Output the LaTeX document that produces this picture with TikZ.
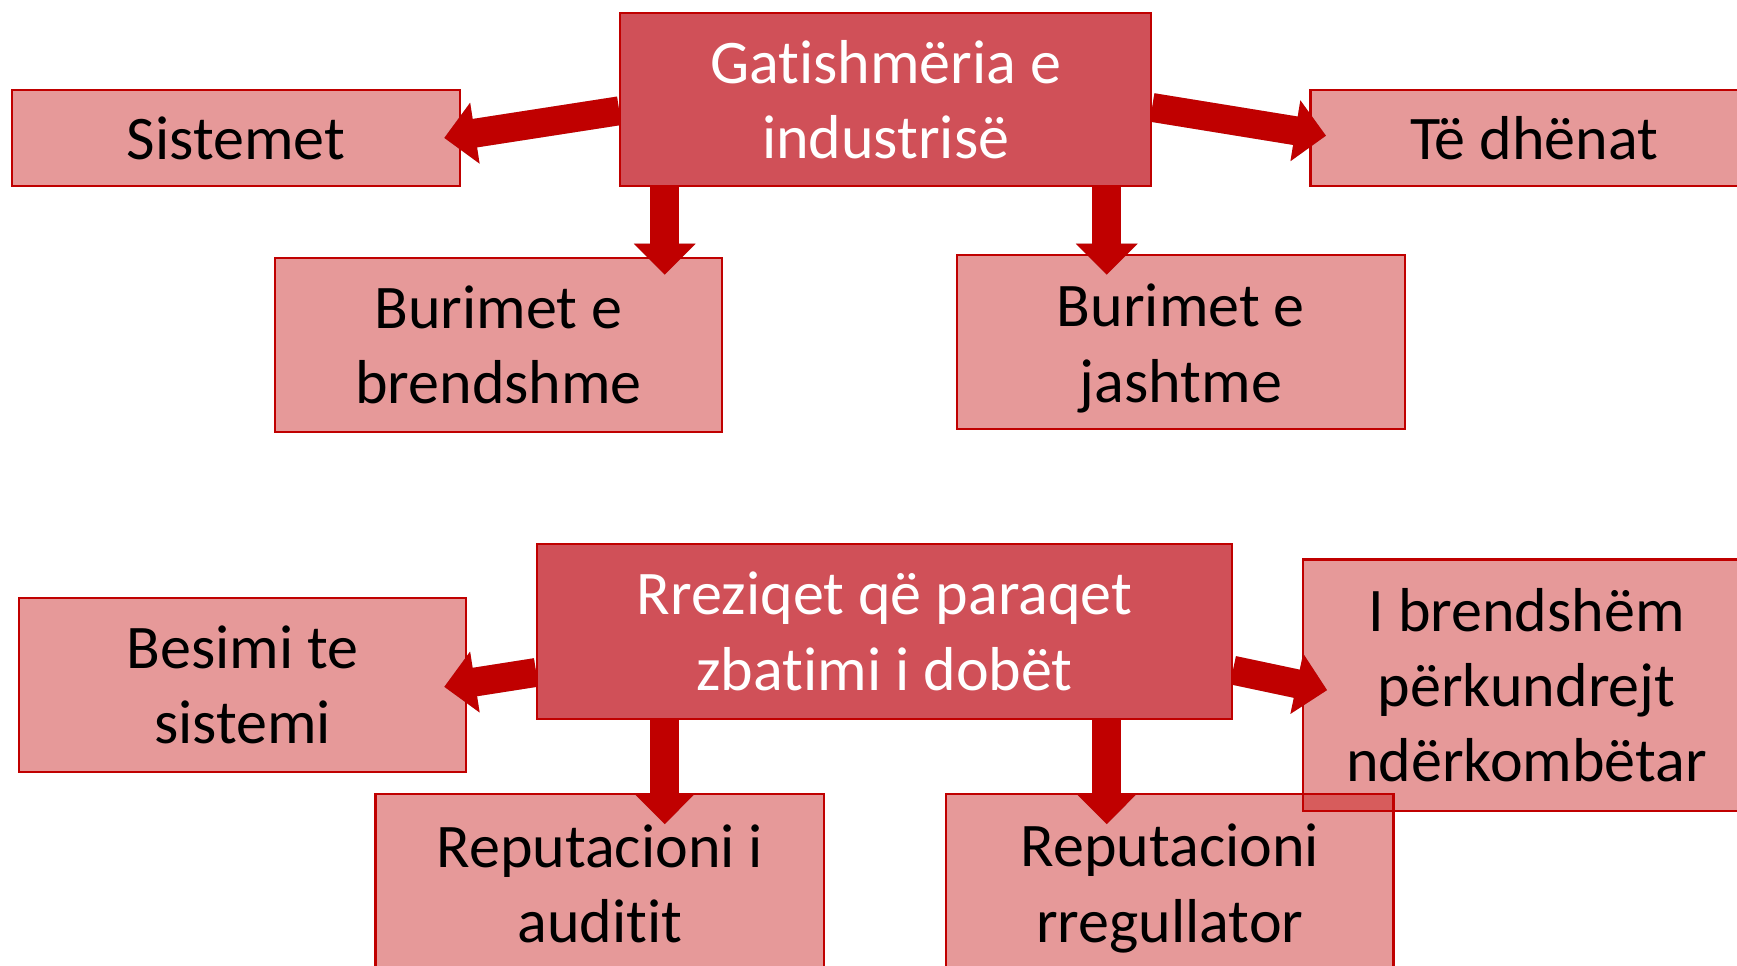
\documentclass[tikz,border=0pt]{standalone}
\usepackage{fontspec}
\setmainfont{Carlito}[RawFeature={-liga;-clig;-calt;-dlig}]
\usetikzlibrary{arrows.meta,calc}
\definecolor{brd}{HTML}{C00000}
\definecolor{hub}{HTML}{D05058}
\tikzset{
  leaf/.style={draw=brd, line width=1pt, fill=brd, fill opacity=0.4, text opacity=1,
    text=black, align=center, inner sep=0pt, font=\fontsize{28}{34}\selectfont},
  lbl/.style={text=black, text opacity=1, align=center, inner sep=0pt, font=\fontsize{28}{34}\selectfont},
  hubbox/.style={draw=brd, line width=1pt, fill=hub, text=white, align=center,
    inner sep=0pt, font=\fontsize{28}{34}\selectfont},
  blk/.style={draw=brd, line width=13pt, -{Triangle[length=14pt,width=27pt]}},
  shd/.style={draw=black, opacity=0.2, line width=13pt, -{Triangle[length=14pt,width=27pt]}}
}
\begin{document}
\begin{tikzpicture}[x=0.5pt,y=-0.5pt]
\useasboundingbox (0,0) rectangle (1568,872);
\clip (0,0) rectangle (1568,872);
% leaf boxes
\node[leaf, minimum width=202pt, minimum height=43.5pt] (sist) at (213,124.5) {Sistemet};
\node[leaf, minimum width=202pt, minimum height=43.5pt] (teh) at (1385,124.5) {Të dhënat};
\node[leaf, minimum width=202pt, minimum height=78.5pt] (brend) at (450,311.5) {Burimet e\\brendshme};
\node[leaf, minimum width=202pt, minimum height=78.5pt,
  label={[lbl,yshift=-3pt]center:Burimet e\\jashtme}] (jasht) at (1066,308.5) {};
\node[leaf, minimum width=202pt, minimum height=78.5pt] (besim) at (219,618.5) {Besimi te\\sistemi};
\node[leaf, minimum width=202.5pt, minimum height=78pt,
  label={[lbl,yshift=-1.5pt]center:Reputacioni i\\auditit}] (repa) at (541.5,795) {};
\node[leaf, minimum width=202pt, minimum height=78pt,
  label={[lbl,yshift=-3.5pt]center:Reputacioni\\rregullator}] (repr) at (1056,795) {};
\node[leaf, minimum width=202pt, minimum height=113.5pt] (ibrend) at (1378,618.5) {I brendshëm\\përkundrejt\\ndërkombëtar};
% hub boxes
\node[hubbox, minimum width=239.5pt, minimum height=78pt] (top) at (799.5,90) {Gatishmëria e\\industrisë};
\node[hubbox, minimum width=313.5pt, minimum height=79pt] (bot) at (798.5,570) {Rreziqet që paraqet\\zbatimi i dobët};
% shadows
\begin{scope}[shift={(3,4)}]
\draw[shd] ($(top.west)+(0,10)$) -- ($(sist.east)+(-15,0)$);
\draw[shd] ($(top.east)+(0,7)$) -- ($(teh.west)+(15,-2)$);
\draw[shd] ($(top.south)+(-199.5,0)$) -- ($(brend.north)+(150,16)$);
\draw[shd] ($(top.south)+(199.5,0)$) -- ($(jasht.north)+(-67,19)$);
\draw[shd] ($(bot.west)+(0,37)$) -- ($(besim.east)+(-21,1.5)$);
\draw[shd] ($(bot.east)+(0,35)$) -- ($(ibrend.west)+(23,4.5)$);
\draw[shd] ($(bot.south)+(-198.5,0)$) -- ($(repa.north)+(58.5,28)$);
\draw[shd] ($(bot.south)+(200.5,0)$) -- ($(repr.north)+(-57,28)$);
\end{scope}
% arrows
\draw[blk] ($(top.west)+(0,10)$) -- ($(sist.east)+(-15,0)$);
\draw[blk] ($(top.east)+(0,7)$) -- ($(teh.west)+(15,-2)$);
\draw[blk] ($(top.south)+(-199.5,0)$) -- ($(brend.north)+(150,16)$);
\draw[blk] ($(top.south)+(199.5,0)$) -- ($(jasht.north)+(-67,19)$);
\draw[blk] ($(bot.west)+(0,37)$) -- ($(besim.east)+(-21,1.5)$);
\draw[blk] ($(bot.east)+(0,35)$) -- ($(ibrend.west)+(23,4.5)$);
\draw[blk] ($(bot.south)+(-198.5,0)$) -- ($(repa.north)+(58.5,28)$);
\draw[blk] ($(bot.south)+(200.5,0)$) -- ($(repr.north)+(-57,28)$);
% redraw hubs on top so arrow starts are hidden
\node[hubbox, minimum width=239.5pt, minimum height=78pt] at (top) {Gatishmëria e\\industrisë};
\node[hubbox, minimum width=313.5pt, minimum height=79pt] at (bot) {Rreziqet që paraqet\\zbatimi i dobët};
\end{tikzpicture}
\end{document}
